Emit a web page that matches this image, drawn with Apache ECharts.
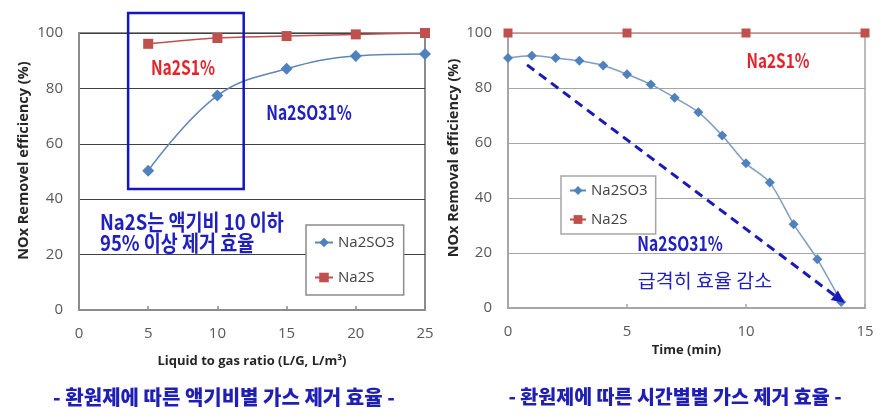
<!DOCTYPE html>
<html><head><meta charset="utf-8">
<script src="https://cdn.jsdelivr.net/npm/echarts@6/dist/echarts.min.js"></script>
<style>html,body{margin:0;padding:0;background:#fff}#c{width:888px;height:420px}</style>
</head><body><div id="c"></div>
<script>
// ---- data ----
const ratioX = [5, 10, 15, 20, 25];
const ratioNa2SO3 = [50.3, 77.4, 87.1, 91.7, 92.4];
const ratioNa2S = [96.1, 98.2, 98.9, 99.5, 100];
const timeX = [0, 1, 2, 3, 4, 5, 6, 7, 8, 9, 10, 11, 12, 13, 14];
const timeNa2SO3 = [90.9, 91.7, 90.9, 89.9, 88.2, 85.0, 81.3, 76.5, 71.2, 62.7, 52.6, 45.6, 30.5, 17.7, 2.2];
const timeNa2SX = [0, 5, 10, 15];
const timeNa2S = [100, 100, 100, 100];
const leftXTicks = [0, 5, 10, 15, 20, 25];
const rightXTicks = [0, 5, 10, 15];
const yTicks = [0, 20, 40, 60, 80, 100];
// annotation anchors in data units
const boxCorners = [[3.55, 107.2], [11.9, 43.7]];
const arrowEnds = [[0.8, 88.4], [14.15, 1.8]];

const pairs = (xs, ys) => xs.map((x, i) => [x, ys[i]]);
const C_BLUE = '#4f81bd', C_RED = '#c0504d';
const FONT = "'Open Sans', 'Noto Sans CJK KR', sans-serif";
const KFONT = "'Noto Sans CJK KR', sans-serif";

const chart = echarts.init(document.getElementById('c'), null, {renderer: 'canvas'});

function yAxisCfg(grid, name, gap, split, lineC, shift) {
  return {
    type: 'value', gridIndex: grid, min: yTicks[0], max: yTicks[yTicks.length - 1], interval: yTicks[1] - yTicks[0],
    name: name, nameLocation: 'middle', nameGap: gap,
    nameTextStyle: {fontFamily: FONT, fontWeight: 'bold', fontSize: 14.5, color: '#262626', padding: [0, 0, 0, shift]},
    axisLine: {show: true, lineStyle: {color: lineC, width: 2}},
    axisTick: {show: false},
    axisLabel: {fontFamily: FONT, fontSize: 15, color: '#595959', margin: 16},
    splitLine: {show: true, lineStyle: {color: split, width: 1}}
  };
}
function xAxisCfg(grid, ticks, name, gap, lineC) {
  return {
    type: 'value', gridIndex: grid, min: ticks[0], max: ticks[ticks.length - 1], interval: ticks[1] - ticks[0],
    name: name, nameLocation: 'middle', nameGap: gap,
    nameTextStyle: {fontFamily: FONT, fontWeight: 'bold', fontSize: 13, color: '#262626'},
    axisLine: {show: true, lineStyle: {color: lineC, width: 2}},
    axisTick: {show: true, inside: true, length: 4, lineStyle: {color: lineC, width: 1.5}},
    axisLabel: {fontFamily: FONT, fontSize: 15, color: '#595959', margin: 16},
    splitLine: {show: false}
  };
}

chart.setOption({
  animation: false,
  backgroundColor: '#fff',
  grid: [
    {left: 79, top: 33, width: 346, height: 277, show: true, borderColor: '#8c8c8c', borderWidth: 2, backgroundColor: 'transparent'},
    {left: 508, top: 33, width: 357, height: 275, show: true, borderColor: '#a6a6a6', borderWidth: 1.5, backgroundColor: 'transparent'}
  ],
  xAxis: [
    xAxisCfg(0, leftXTicks, 'Liquid to gas ratio (L/G, L/m³)', 45, '#8c8c8c'),
    xAxisCfg(1, rightXTicks, 'Time (min)', 31, '#a6a6a6')
  ],
  yAxis: [
    yAxisCfg(0, 'NOx Removel efficiency (%)', 48, '#404040', '#8c8c8c', 22),
    yAxisCfg(1, 'NOx Removal efficiency (%)', 47, '#a6a6a6', '#a6a6a6', 25)
  ],
  legend: [
    {data: ['Na2SO3', 'Na2S'], orient: 'vertical', left: 306, top: 225, padding: [10, 9, 10, 8], itemGap: 20,
     itemWidth: 18, itemHeight: 12, borderColor: '#8c8c8c', borderWidth: 1.5, backgroundColor: '#fff',
     textStyle: {fontFamily: FONT, fontSize: 15, color: '#404040'}, selectedMode: false},
    {data: ['Na2SO3', 'Na2S'], orient: 'vertical', left: 561, top: 176, padding: [7, 8, 7, 8], itemGap: 14,
     itemWidth: 16, itemHeight: 11, borderColor: '#a6a6a6', borderWidth: 1.5, backgroundColor: '#fff',
     textStyle: {fontFamily: FONT, fontSize: 15, color: '#404040'}, selectedMode: false}
  ],
  series: [
    {name: 'Na2SO3', type: 'line', xAxisIndex: 0, yAxisIndex: 0, data: pairs(ratioX, ratioNa2SO3), smooth: 0.4,
     symbol: 'diamond', symbolSize: 12, itemStyle: {color: C_BLUE}, lineStyle: {color: '#5f86b8', width: 1.5}, z: 3},
    {name: 'Na2S', type: 'line', xAxisIndex: 0, yAxisIndex: 0, data: pairs(ratioX, ratioNa2S), smooth: 0.3,
     symbol: 'rect', symbolSize: 10, itemStyle: {color: C_RED}, lineStyle: {color: C_RED, width: 1.5}, z: 3},
    {name: 'Na2SO3', type: 'line', xAxisIndex: 1, yAxisIndex: 1, data: pairs(timeX, timeNa2SO3), smooth: 0.3,
     symbol: 'diamond', symbolSize: 10, itemStyle: {color: C_BLUE}, lineStyle: {color: '#7f9cc4', width: 1.5}, z: 3},
    {name: 'Na2S', type: 'line', xAxisIndex: 1, yAxisIndex: 1, data: pairs(timeNa2SX, timeNa2S),
     symbol: 'rect', symbolSize: 9, itemStyle: {color: C_RED}, lineStyle: {color: '#e08080', width: 1}, z: 3}
  ]
});

// ---- annotations ----
function txt(t, x, y, fill, size, weight, align, sx, sy) {
  return {type: 'text', z: 50, x: x, y: y, scaleX: sx || 1, scaleY: sy || 1,
    style: {text: t, x: 0, y: 0, fill: fill, align: align || 'center', verticalAlign: 'middle',
    font: (weight || 'bold') + ' ' + size + 'px ' + KFONT}};
}
const p0 = chart.convertToPixel({xAxisIndex: 0, yAxisIndex: 0}, boxCorners[0]);
const p1 = chart.convertToPixel({xAxisIndex: 0, yAxisIndex: 0}, boxCorners[1]);
const a0 = chart.convertToPixel({xAxisIndex: 1, yAxisIndex: 1}, arrowEnds[0]);
const a1 = chart.convertToPixel({xAxisIndex: 1, yAxisIndex: 1}, arrowEnds[1]);
const ang = Math.atan2(a1[1] - a0[1], a1[0] - a0[0]);
const headL = 13, headW = 6;
const base = [a1[0] - headL * Math.cos(ang), a1[1] - headL * Math.sin(ang)];
const nx = -Math.sin(ang), ny = Math.cos(ang);

chart.setOption({
  graphic: [
    {type: 'rect', z: 40, shape: {x: p0[0], y: p0[1], width: p1[0] - p0[0], height: p1[1] - p0[1]},
     style: {fill: 'none', stroke: '#1515c8', lineWidth: 2.5}},
    {type: 'line', z: 40, shape: {x1: a0[0], y1: a0[1], x2: base[0], y2: base[1]},
     style: {stroke: '#1a1ab8', lineWidth: 3, lineDash: [9, 6]}},
    {type: 'polygon', z: 40, shape: {points: [[a1[0], a1[1]], [base[0] + nx * headW, base[1] + ny * headW], [base[0] - nx * headW, base[1] - ny * headW]]},
     style: {fill: '#1a1ab8'}},
    txt('Na2S1%', 183, 67, '#e3242b', 17, 'bold', 'center', 0.92, 1.2),
    txt('Na2SO31%', 309, 112, '#2020c0', 17, 'bold', 'center', 0.92, 1.2),
    txt('Na2S는 액기비 10 이하', 100, 222, '#2020c0', 18.5, 'bold', 'left', 1, 1.15),
    txt('95% 이상 제거 효율', 100, 243, '#2020c0', 18.5, 'bold', 'left', 1, 1.15),
    txt('- 환원제에 따른 액기비별 가스 제거 효율 -', 224, 397, '#1f1fb4', 20, '900'),
    txt('Na2S1%', 778, 61, '#e3242b', 17, 'bold', 'center', 0.9, 1.15),
    txt('Na2SO31%', 680, 243, '#2020c0', 17, 'bold', 'center', 0.92, 1.2),
    txt('급격히 효율 감소', 705, 281, '#2020c0', 19.5, 'normal'),
    txt('- 환원제에 따른 시간별별 가스 제거 효율 -', 675, 397, '#1f1fb4', 19.5, '900')
  ]
});
</script></body></html>
